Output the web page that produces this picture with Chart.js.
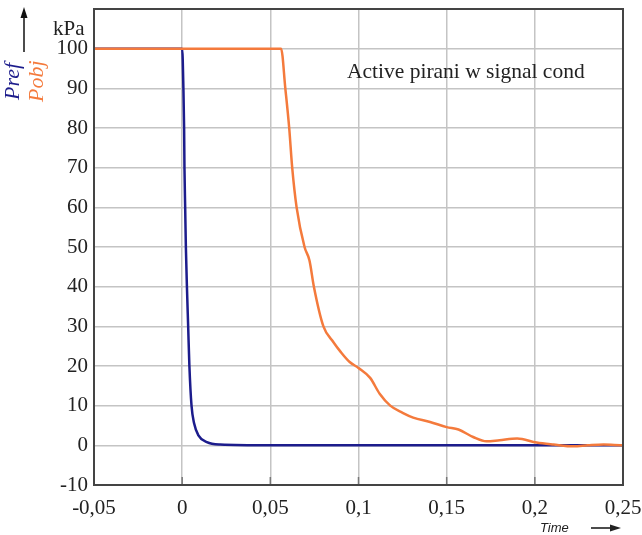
<!DOCTYPE html>
<html>
<head>
<meta charset="utf-8">
<script src="https://cdn.jsdelivr.net/npm/chart.js@4.4.0/dist/chart.umd.min.js"></script>
<style>
	html, body { margin: 0; padding: 0; background: #fff; }
	#wrap { width: 642px; height: 535px; }
</style>
</head>
<body>
<div id="wrap"><canvas id="pirani"></canvas></div>
<script>
// time axis ticks and their labels
const xTicks = [-0.05, 0, 0.05, 0.1, 0.15, 0.2, 0.25];
const xTickLabels = ['-0,05', '0', '0,05', '0,1', '0,15', '0,2', '0,25'];
const yTickLabels = ['-10', '0', '10', '20', '30', '40', '50', '60', '70', '80', '90', '100'];

// Pref (reference gauge)
const prefTime = [-0.05, 0, 0.0007, 0.0011, 0.0013, 0.0017, 0.0021, 0.0027, 0.0034, 0.0041, 0.0053, 0.0068, 0.0092, 0.014, 0.0215, 0.05, 0.1, 0.15, 0.2, 0.25];
const prefValue = [100, 100, 90, 80, 70, 60, 50, 40, 30, 20, 10, 5.5, 2.5, 0.8, 0.2, 0, 0, 0, 0, 0];

// Pobj (active pirani)
const pobjTime = [-0.05, 0.0561, 0.0585, 0.0607, 0.0624, 0.0649, 0.0694, 0.0722, 0.0747, 0.0801, 0.0858, 0.09, 0.095, 0.1, 0.1066, 0.112, 0.118, 0.125, 0.131, 0.1406, 0.15, 0.1567, 0.165, 0.1726, 0.18, 0.19, 0.201, 0.2106, 0.222, 0.23, 0.239, 0.245, 0.25];
const pobjValue = [100, 100, 90, 80, 70, 60, 50, 46.6, 40, 30, 26, 23.5, 21, 19.5, 17, 13, 10, 8.2, 7, 5.9, 4.6, 4.0, 2.1, 1.0, 1.3, 1.7, 0.7, 0.2, -0.25, 0, 0.2, 0.1, 0];

const blue = '#1c1c8c';
const orange = '#f47a3c';
const serif = "'Liberation Serif', 'DejaVu Serif', serif";

function toPoints(ts, vs) {
	return ts.map(function(t, i) { return { x: t, y: vs[i] }; });
}

const framePlugin = {
	id: 'frame',
	afterDatasetsDraw: function(chart) {
		const ctx = chart.ctx;
		const a = chart.chartArea;
		const xs = chart.scales.x;
		ctx.save();
		// short inner tick marks on the time axis
		ctx.strokeStyle = '#777';
		ctx.lineWidth = 1.5;
		xTicks.forEach(function(t) {
			const px = xs.getPixelForValue(t);
			ctx.beginPath();
			ctx.moveTo(px, a.bottom);
			ctx.lineTo(px, a.bottom - 8);
			ctx.stroke();
		});
		ctx.strokeStyle = '#444';
		ctx.lineWidth = 2;
		ctx.strokeRect(a.left, a.top, a.right - a.left, a.bottom - a.top);
		ctx.restore();
	},
	afterDraw: function(chart) {
		const ctx = chart.ctx;
		ctx.save();
		// annotation
		ctx.fillStyle = '#222';
		ctx.font = '21.5px ' + serif;
		ctx.textBaseline = 'alphabetic';
		ctx.textAlign = 'left';
		ctx.fillText('Active pirani w signal cond', 347, 78);
		// unit
		ctx.font = '21px ' + serif;
		ctx.fillText('kPa', 53, 35);
		// vertical arrow
		ctx.strokeStyle = '#111';
		ctx.fillStyle = '#111';
		ctx.lineWidth = 1.5;
		ctx.beginPath();
		ctx.moveTo(24, 52);
		ctx.lineTo(24, 16);
		ctx.stroke();
		ctx.beginPath();
		ctx.moveTo(24, 7);
		ctx.lineTo(20.5, 18);
		ctx.lineTo(27.5, 18);
		ctx.closePath();
		ctx.fill();
		// rotated series names
		ctx.font = 'italic 22px ' + serif;
		ctx.save();
		ctx.translate(19, 100);
		ctx.rotate(-Math.PI / 2);
		ctx.fillStyle = blue;
		ctx.fillText('Pref', 0, 0);
		ctx.restore();
		ctx.save();
		ctx.translate(43, 102);
		ctx.rotate(-Math.PI / 2);
		ctx.fillStyle = orange;
		ctx.fillText('Pobj', 0, 0);
		ctx.restore();
		// time label with arrow
		ctx.fillStyle = '#222';
		ctx.font = "italic 13px 'Liberation Sans', Arial, sans-serif";
		ctx.fillText('Time', 540, 532);
		ctx.strokeStyle = '#111';
		ctx.lineWidth = 1.5;
		ctx.beginPath();
		ctx.moveTo(591, 528);
		ctx.lineTo(612, 528);
		ctx.stroke();
		ctx.beginPath();
		ctx.moveTo(621, 528);
		ctx.lineTo(610, 524.5);
		ctx.lineTo(610, 531.5);
		ctx.closePath();
		ctx.fill();
		ctx.restore();
	}
};

new Chart(document.getElementById('pirani'), {
	type: 'line',
	data: {
		datasets: [{
			label: 'Pobj',
			data: toPoints(pobjTime, pobjValue),
			borderColor: orange,
			borderWidth: 2.5,
			pointRadius: 0,
			cubicInterpolationMode: 'monotone',
			order: 1
		}, {
			label: 'Pref',
			data: toPoints(prefTime, prefValue),
			borderColor: blue,
			borderWidth: 2.5,
			pointRadius: 0,
			cubicInterpolationMode: 'monotone',
			order: 2
		}]
	},
	options: {
		responsive: true,
		maintainAspectRatio: false,
		animation: false,
		layout: { padding: { top: 9, right: 19, left: 0, bottom: 0 } },
		plugins: {
			legend: { display: false },
			tooltip: { enabled: false }
		},
		scales: {
			x: {
				type: 'linear',
				min: -0.05,
				max: 0.25,
				afterBuildTicks: function(axis) {
					axis.ticks = xTicks.map(function(v) { return { value: v }; });
				},
				afterFit: function(scale) {
					scale.height = 50;
					scale.paddingLeft = 0;
					scale.paddingRight = 0;
				},
				grid: { color: '#c4c4c4', lineWidth: 1.5, drawTicks: false },
				border: { display: true, color: '#444', width: 2 },
				ticks: {
					padding: 11,
					color: '#222',
					maxRotation: 0,
					font: { family: serif, size: 21 },
					callback: function(v) {
						const i = xTicks.findIndex(function(t) { return Math.abs(t - v) < 1e-9; });
						return i >= 0 ? xTickLabels[i] : '';
					}
				}
			},
			y: {
				min: -10,
				max: 110,
				afterFit: function(scale) {
					scale.width = 94;
					scale.paddingTop = 0;
					scale.paddingBottom = 0;
				},
				grid: { color: '#c4c4c4', lineWidth: 1.5, drawTicks: false },
				border: { display: true, color: '#444', width: 2 },
				ticks: {
					stepSize: 10,
					padding: 6,
					color: '#222',
					font: { family: serif, size: 21 },
					callback: function(v) {
						const i = yTickLabels.indexOf(String(v));
						return i >= 0 ? yTickLabels[i] : null;
					}
				}
			}
		}
	},
	plugins: [framePlugin]
});
</script>
</body>
</html>
